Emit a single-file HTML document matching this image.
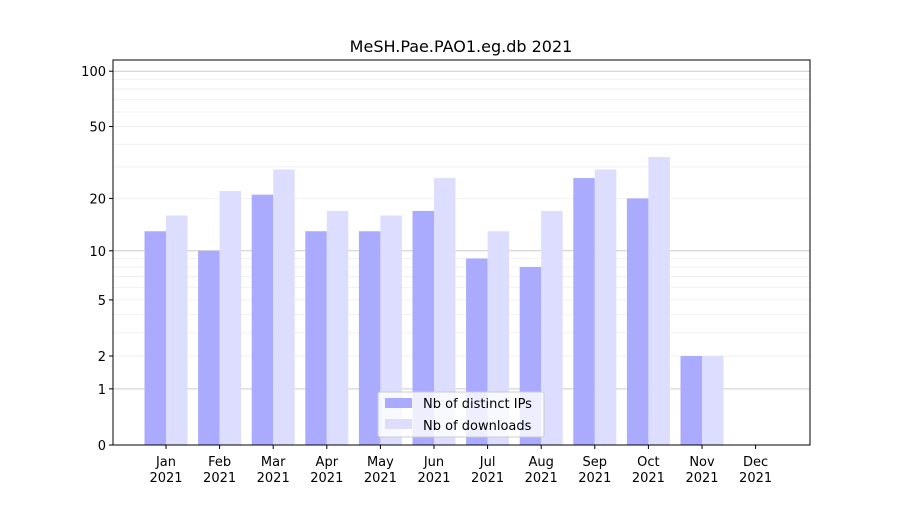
<!DOCTYPE html>
<html><head><meta charset="utf-8"><style>
body{margin:0;background:#fff;}
svg text{font-family:"DejaVu Sans","Liberation Sans",sans-serif;}
</style></head><body>
<svg id="chart" width="900" height="500" viewBox="0 0 900 500">
<rect width="900" height="500" fill="#fff"/>
<text x="461" y="52" text-anchor="middle" font-size="16">MeSH.Pae.PAO1.eg.db 2021</text>
<g id="grid"></g>
<g id="bars"></g>
<g id="axes"></g>
<g id="legend">
<rect x="378" y="392" width="166" height="45" fill="#fff" fill-opacity="0.8" stroke="#ccc" rx="2"/>
<rect x="385" y="398" width="27" height="10" fill="#aaaaff"/>
<text x="423" y="408" font-size="13">Nb of distinct IPs</text>
<rect x="385" y="419" width="27" height="10" fill="#ddddff"/>
<text x="423" y="430" font-size="13">Nb of downloads</text>
</g>
</svg>
<script>
const months=["Jan","Feb","Mar","Apr","May","Jun","Jul","Aug","Sep","Oct","Nov","Dec"];
const ips=[13,10,21,13,13,17,9,8,26,20,2,0];
const downloads=[16,22,29,17,16,26,13,17,29,34,2,0];
const yTicks=[0,1,2,5,10,20,50,100];
const NS="http://www.w3.org/2000/svg";
const L=113,R=810,T=60,B=445;
function y(v){return B-Math.log10(1+v)*186.5;}
function x(i){return 166+i*53.6;}
function mk(tag,attrs,parent){const e=document.createElementNS(NS,tag);for(const k in attrs)e.setAttribute(k,attrs[k]);parent.appendChild(e);return e;}
const grid=document.getElementById('grid'),bars=document.getElementById('bars'),axes=document.getElementById('axes');
const minor=[2,3,4,5,6,7,8,9,20,30,40,50,60,70,80,90];
minor.forEach(v=>{const l=mk('line',{x1:L,x2:R,y1:y(v),y2:y(v),stroke:'#eee','stroke-width':0.8},grid);

});
[1,10,100].forEach(v=>{const l=mk('line',{x1:L,x2:R,y1:y(v),y2:y(v),stroke:'#ccc','stroke-width':1},grid);

});
const bw=21.5;
months.forEach((m,i)=>{
 if(ips[i]>0){const r=mk('rect',{x:x(i)-bw,y:y(ips[i]),width:bw,height:B-y(ips[i]),fill:'#aaaaff'},bars);
 
 }
 if(downloads[i]>0){const r=mk('rect',{x:x(i),y:y(downloads[i]),width:bw,height:B-y(downloads[i]),fill:'#ddddff'},bars);
 
 }
 mk('line',{x1:x(i),x2:x(i),y1:B,y2:B+4,stroke:'#000'},axes);
 const t=mk('text',{x:x(i),y:B+21,'text-anchor':'middle','font-size':13},axes);t.textContent=m;
 
 
 const t2=mk('text',{x:x(i),y:B+37,'text-anchor':'middle','font-size':13},axes);t2.textContent='2021';
 
 
});
yTicks.forEach(v=>{mk('line',{x1:L-4,x2:L,y1:y(v),y2:y(v),stroke:'#000'},axes);
 const t=mk('text',{x:L-7,y:y(v)+5,'text-anchor':'end','font-size':13},axes);t.textContent=v;
 
 });
const f=mk('rect',{x:L,y:T,width:R-L,height:B-T,fill:'none',stroke:'#000','stroke-width':1},axes);


</script>
</body></html>
